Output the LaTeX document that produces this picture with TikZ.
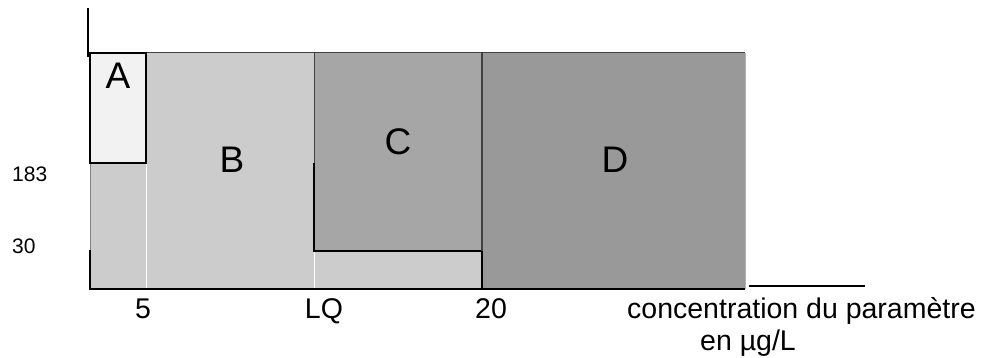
\documentclass[tikz,border=0pt]{standalone}
\usepackage{fontspec}
\setmainfont{Liberation Sans}
\definecolor{fillA}{HTML}{F2F2F2}
\definecolor{fillB}{HTML}{CCCCCC}
\definecolor{fillC}{HTML}{A6A6A6}
\definecolor{fillD}{HTML}{999999}
\definecolor{edgeG}{HTML}{404040}
\tikzset{
  zonelbl/.style={inner sep=0pt, anchor=base, font=\fontsize{37}{40}\selectfont},
  axlbl/.style={inner sep=0pt, anchor=base, font=\fontsize{28.5}{32}\selectfont},
  ylbl/.style={inner sep=0pt, anchor=base west, font=\fontsize{21}{24}\selectfont},
  thickblk/.style={black, line width=2.6pt},
  thinedge/.style={edgeG, line width=1pt},
}
\begin{document}
\begin{tikzpicture}[x=1pt,y=-1pt]
\useasboundingbox (0,0) rectangle (990,358);
% fills
\fill[fillB] (90,53) rectangle (314,289);
\fill[fillA] (90,53) rectangle (146,163);
\fill[fillC] (314,53) rectangle (482,251);
\fill[fillB] (314,251) rectangle (482,289);
\fill[fillD] (482,53) rectangle (745,289);
% white separators
\draw[white, line width=1pt] (146,163) -- (146,289);
\draw[white, line width=1pt] (314,251) -- (314,289);
% outlines
\draw[thinedge] (90,53) -- (745,53);
\draw[gray!60, line width=0.8pt] (745,53) -- (745,289);
\draw[thinedge] (314,53) -- (314,163);
\draw[thickblk] (314,163) -- (314,251) -- (482,251);
\draw[thinedge, line width=1.4pt] (482,53) -- (482,251);
\draw[thickblk] (482,251) -- (482,289);
\draw[gray, line width=0.8pt] (90,163) -- (90,250);
\draw[thickblk] (90,250) -- (90,289);
\draw[thickblk] (90,53) rectangle (146,163);
% axes
\draw[thickblk] (89,289) -- (745,289);
\coordinate (xa) at (749,286);
\coordinate (xb) at (865,286);
\draw[black, line width=1.4pt] (xa) -- (xb);
\coordinate (ya) at (88,8);
\coordinate (yb) at (88,57);
\draw[black, line width=1.4pt] (ya) -- (yb);
% zone labels
\node[zonelbl] (lA) at (118,89) {A};
\node[zonelbl] (lB) at (232,173) {B};
\node[zonelbl] (lC) at (398,155) {C};
\node[zonelbl] (lD) at (615,173) {D};
% y labels
\node[ylbl] (y183) at (12,182) {183};
\node[ylbl] (y30) at (12,253) {30};
% x labels
\node[axlbl] (x5) at (143,318) {5};
\node[axlbl] (xLQ) at (324,318) {LQ};
\node[axlbl] (x20) at (491,318) {20};
\node[axlbl, anchor=base west] (xt1) at (627,318) {concentration du paramètre};
\node[axlbl, anchor=base west] (xt2) at (700,350) {en µg/L};
\end{tikzpicture}
\end{document}
